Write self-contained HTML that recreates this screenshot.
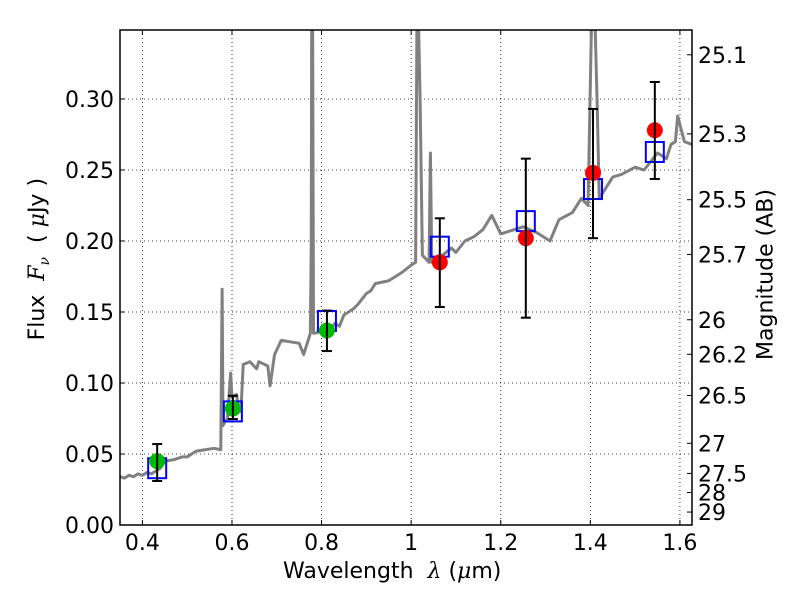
<!DOCTYPE html>
<html><head><meta charset="utf-8"><style>
body{margin:0;background:#fff;}
svg{display:block;font-family:"DejaVu Sans","Liberation Sans",sans-serif;}
</style></head><body>
<svg id="chart" width="800" height="600"></svg>
<script>
const specX=[0.35,0.36,0.37,0.38,0.39,0.40,0.41,0.42,0.43,0.44,0.45,0.47,0.49,0.50,0.52,0.54,0.56,0.575,0.578,0.580,0.583,0.59,0.597,0.60,0.61,0.615,0.62,0.625,0.64,0.655,0.66,0.68,0.685,0.695,0.71,0.73,0.75,0.76,0.765,0.775,0.777,0.778,0.780,0.782,0.80,0.82,0.83,0.84,0.85,0.87,0.88,0.90,0.91,0.92,0.95,0.97,0.98,1.00,1.01,1.013,1.016,1.02,1.025,1.04,1.043,1.046,1.05,1.07,1.09,1.10,1.12,1.14,1.16,1.18,1.20,1.22,1.25,1.28,1.31,1.33,1.36,1.38,1.395,1.403,1.405,1.41,1.415,1.42,1.44,1.45,1.47,1.50,1.52,1.55,1.57,1.58,1.59,1.595,1.61,1.627];
const specY=[0.034,0.033,0.035,0.034,0.036,0.035,0.037,0.036,0.038,0.040,0.045,0.046,0.048,0.048,0.052,0.053,0.054,0.053,0.166,0.070,0.072,0.075,0.107,0.090,0.092,0.082,0.080,0.113,0.115,0.110,0.115,0.112,0.098,0.120,0.130,0.129,0.128,0.120,0.125,0.135,0.2,0.36,0.36,0.135,0.136,0.138,0.142,0.140,0.148,0.152,0.155,0.163,0.165,0.170,0.172,0.176,0.178,0.183,0.185,0.36,0.36,0.30,0.19,0.185,0.262,0.185,0.185,0.190,0.195,0.192,0.200,0.203,0.208,0.218,0.205,0.207,0.210,0.206,0.200,0.215,0.220,0.230,0.225,0.36,0.36,0.36,0.30,0.230,0.240,0.245,0.247,0.252,0.250,0.262,0.258,0.268,0.270,0.288,0.270,0.268];
const obsX=[0.433,0.602,0.812,1.064,1.256,1.406,1.544];
const obsY=[0.045,0.082,0.137,0.185,0.202,0.248,0.278];
const obsLo=[0.031,0.0746,0.1225,0.1535,0.146,0.202,0.2437];
const obsHi=[0.057,0.091,0.151,0.216,0.258,0.293,0.312];
const obsColor=['#00bb00','#00bb00','#00bb00','red','red','red','red'];
const modX=[0.433,0.602,0.812,1.064,1.256,1.406,1.544];
const modY=[0.040,0.080,0.1437,0.196,0.214,0.2366,0.2627];
const xTicks=[0.4,0.6,0.8,1.0,1.2,1.4,1.6];
const xTickLabels=['0.4','0.6','0.8','1','1.2','1.4','1.6'];
const yTicks=[0,0.05,0.10,0.15,0.20,0.25,0.30];
const yTickLabels=['0.00','0.05','0.10','0.15','0.20','0.25','0.30'];
const magTicks=[25.1,25.3,25.5,25.7,26,26.2,26.5,27,27.5,28,29];
const magTickLabels=['25.1','25.3','25.5','25.7','26','26.2','26.5','27','27.5','28','29'];

const L=120,R=692,T=30,B=525,xmin=0.35,xmax=1.627,ymin=0,ymax=0.3486;
const sx=v=>L+(v-xmin)/(xmax-xmin)*(R-L);
const sy=v=>B-(v-ymin)/(ymax-ymin)*(B-T);
const magToFlux=m=>Math.pow(10,(23.9-m)/2.5);
const NS='http://www.w3.org/2000/svg';
const svg=document.getElementById('chart');
function mk(tag,attrs,parent){const e=document.createElementNS(NS,tag);for(const k in attrs)e.setAttribute(k,attrs[k]);(parent||svg).appendChild(e);return e;}
const clip=mk('clipPath',{id:'pc'});mk('rect',{x:L,y:T,width:R-L,height:B-T},clip);

xTicks.forEach((v,i)=>{
 const g=mk('line',{x1:sx(v),x2:sx(v),y1:T,y2:B,stroke:'#000','stroke-width':0.8,'stroke-dasharray':'1,3'});
 
 
 mk('line',{x1:sx(v),x2:sx(v),y1:B,y2:B-5,stroke:'#000'});
 mk('line',{x1:sx(v),x2:sx(v),y1:T,y2:T+5,stroke:'#000'});
 const t=mk('text',{x:sx(v),y:B+25,'text-anchor':'middle','font-size':22});
 t.textContent=xTickLabels[i];
 
 
});
yTicks.forEach((v,i)=>{
 const g=mk('line',{x1:L,x2:R,y1:sy(v),y2:sy(v),stroke:'#000','stroke-width':0.8,'stroke-dasharray':'1,3'});
 
 
 mk('line',{x1:L,x2:L+5,y1:sy(v),y2:sy(v),stroke:'#000'});
 const t=mk('text',{x:L-6,y:sy(v)+8,'text-anchor':'end','font-size':22});
 t.textContent=yTickLabels[i];
 
 
});
magTicks.forEach((m,i)=>{
 const y=sy(magToFlux(m));
 mk('line',{x1:R,x2:R-5,y1:y,y2:y,stroke:'#000'});
 const t=mk('text',{x:R+6,y:y+8,'font-size':22});
 t.textContent=magTickLabels[i];
 
 
});

const sp=mk('polyline',{points:specX.map((x,i)=>sx(x)+','+sy(specY[i])).join(' '),fill:'none',stroke:'#808080','stroke-width':3,'stroke-linejoin':'round','clip-path':'url(#pc)'});



modX.forEach((x,i)=>{
 const r=mk('rect',{x:sx(x)-9,y:sy(modY[i])-10,width:18,height:20,fill:'none',stroke:'#0000ff','stroke-width':2});
 
 
});
obsX.forEach((x,i)=>{
 const px=sx(x);
 const c=mk('circle',{cx:px,cy:sy(obsY[i]),r:8,fill:obsColor[i]});
 
 
 const e=mk('line',{x1:px,x2:px,y1:sy(obsLo[i]),y2:sy(obsHi[i]),stroke:'#000','stroke-width':2});
 
 
 mk('line',{x1:px-5,x2:px+5,y1:sy(obsLo[i]),y2:sy(obsLo[i]),stroke:'#000','stroke-width':2});
 mk('line',{x1:px-5,x2:px+5,y1:sy(obsHi[i]),y2:sy(obsHi[i]),stroke:'#000','stroke-width':2});
});
const fr=mk('rect',{x:L,y:T,width:R-L,height:B-T,fill:'none',stroke:'#000','stroke-width':1.5});


</script>
<div style="position:absolute;left:0;top:0;width:800px;height:600px;pointer-events:none;font-family:'DejaVu Sans','Liberation Sans',sans-serif;">
 <div style="position:absolute;left:283px;top:559px;font-size:22px;white-space:nowrap;">Wavelength &nbsp;<i style="font-family:'DejaVu Serif',serif">λ</i> (<i style="font-family:'DejaVu Serif',serif">μ</i>m)</div>
 <div style="position:absolute;left:-71px;top:245px;width:220px;text-align:center;font-size:22px;white-space:nowrap;transform:rotate(-90deg);">Flux &nbsp;<i style="font-family:'DejaVu Serif',serif">F<sub style="font-size:14px">ν</sub></i> &nbsp;( <i style="font-family:'DejaVu Serif',serif">μ</i>Jy )</div>
 <div style="position:absolute;left:666px;top:262px;width:200px;text-align:center;font-size:22px;white-space:nowrap;transform:rotate(-90deg);">Magnitude (AB)</div>
</div>
</body></html>
